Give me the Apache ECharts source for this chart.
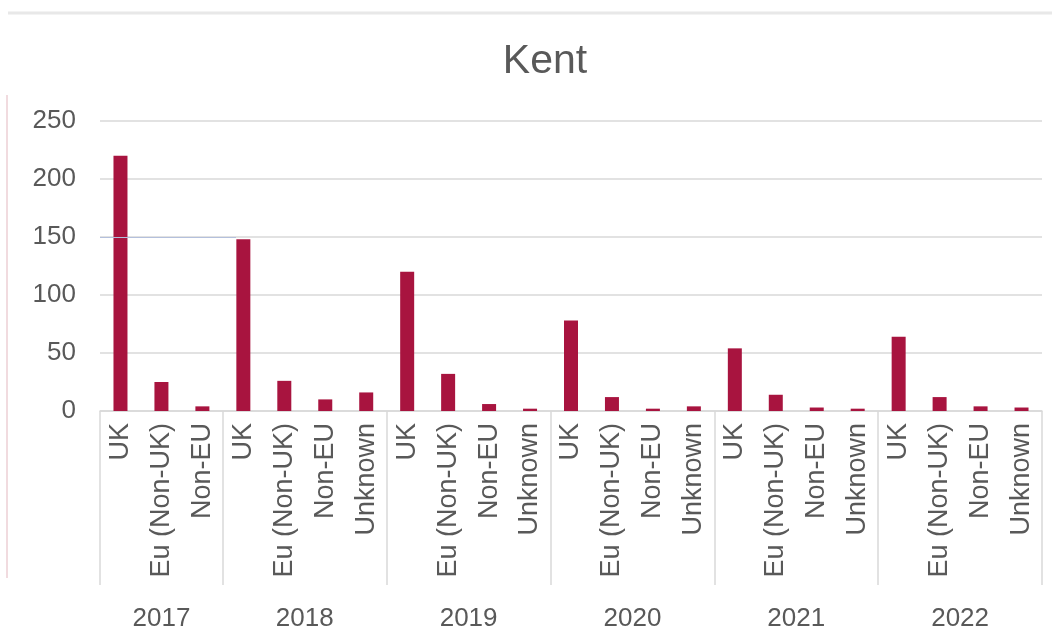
<!DOCTYPE html>
<html>
<head>
<meta charset="utf-8">
<script src="https://cdn.jsdelivr.net/npm/echarts@6/dist/echarts.min.js"></script>
<style>
  html, body { margin: 0; padding: 0; background: #ffffff; }
  #chart { width: 1063px; height: 644px; }
</style>
</head>
<body>
<div id="chart"></div>
<script>
const title = 'Kent';
const categories = [
  'UK', 'Eu (Non-UK)', 'Non-EU',
  'UK', 'Eu (Non-UK)', 'Non-EU', 'Unknown',
  'UK', 'Eu (Non-UK)', 'Non-EU', 'Unknown',
  'UK', 'Eu (Non-UK)', 'Non-EU', 'Unknown',
  'UK', 'Eu (Non-UK)', 'Non-EU', 'Unknown',
  'UK', 'Eu (Non-UK)', 'Non-EU', 'Unknown'
];
const values = [
  220, 25, 4,
  148, 26, 10, 16,
  120, 32, 6, 2,
  78, 12, 2, 4,
  54, 14, 3, 2,
  64, 12, 4, 3
];
const years = ['2017', '2018', '2019', '2020', '2021', '2022'];
const yearGroupSizes = [3, 4, 4, 4, 4, 4];
const yTicks = [0, 50, 100, 150, 200, 250];

// group boundaries and centres (in category units)
const boundaries = [0];
yearGroupSizes.forEach(s => boundaries.push(boundaries[boundaries.length - 1] + s));
const centres = years.map((y, i) => (boundaries[i] + boundaries[i + 1]) / 2);

const textColor = '#595959';
const font = 'Liberation Sans, Arial, sans-serif';

const chart = echarts.init(document.getElementById('chart'));
chart.setOption({
  backgroundColor: '#ffffff',
  animation: false,
  title: {
    text: title,
    left: 540,
    textAlign: 'center',
    top: 36,
    textStyle: { color: textColor, fontSize: 41, fontWeight: 'normal', fontFamily: font }
  },
  grid: { left: 100, right: 21, top: 121, bottom: 233, containLabel: false },
  xAxis: [
    {
      type: 'category',
      data: categories,
      boundaryGap: true,
      axisLine: { show: true, lineStyle: { color: '#d9d9d9', width: 1.5 } },
      axisTick: { show: false },
      axisLabel: {
        interval: 0,
        rotate: 90,
        margin: 12,
        color: textColor,
        fontSize: 27,
        fontFamily: font
      },
      splitLine: { show: false }
    },
    {
      type: 'value',
      min: 0,
      max: categories.length,
      position: 'bottom',
      axisLine: { show: false },
      axisTick: {
        show: true,
        customValues: boundaries,
        length: 174,
        lineStyle: { color: '#d9d9d9', width: 1.5 }
      },
      axisLabel: {
        show: true,
        customValues: centres,
        margin: 195,
        color: textColor,
        fontSize: 26,
        fontFamily: font,
        formatter: function (v) {
          const i = centres.findIndex(c => Math.abs(c - v) < 1e-6);
          return i >= 0 ? years[i] : '';
        }
      },
      splitLine: { show: false }
    }
  ],
  yAxis: {
    type: 'value',
    min: yTicks[0],
    max: yTicks[yTicks.length - 1],
    interval: 50,
    axisLine: { show: false },
    axisTick: { show: false },
    axisLabel: { color: textColor, fontSize: 26, fontFamily: font, margin: 24 },
    splitLine: { show: true, lineStyle: { color: '#d9d9d9', width: 1.5 } }
  },
  series: [
    {
      type: 'bar',
      xAxisIndex: 0,
      data: values,
      barWidth: 14,
      itemStyle: { color: '#a8143f' }
    }
  ],
  graphic: [
    { type: 'line', shape: { x1: 8, y1: 13, x2: 1052, y2: 13 }, style: { stroke: '#e8e8e8', lineWidth: 3 }, silent: true },
    { type: 'line', shape: { x1: 7, y1: 95, x2: 7, y2: 578 }, style: { stroke: '#e3b7bf', lineWidth: 1 }, silent: true },
    { type: 'line', shape: { x1: 100, y1: 237.5, x2: 236, y2: 237.5 }, style: { stroke: '#b4c0dc', lineWidth: 1 }, silent: true, z: 10 }
  ]
});
</script>
</body>
</html>
